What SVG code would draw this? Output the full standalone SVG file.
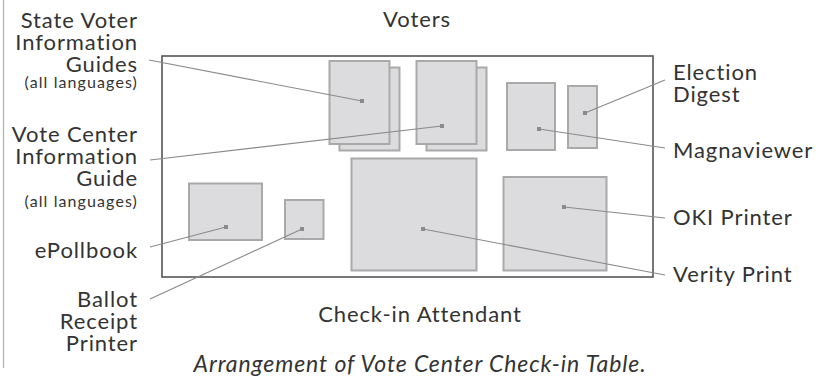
<svg xmlns="http://www.w3.org/2000/svg" width="826" height="379" viewBox="0 0 826 379">
<defs>
<marker id="dot" viewBox="0 0 4 4" refX="2" refY="2" markerWidth="4.5" markerHeight="4.5" markerUnits="userSpaceOnUse">
<rect x="0" y="0" width="4" height="4" fill="#8a8a8a"/>
</marker>
<style>
.t{font-family:Lato,"Liberation Sans",sans-serif;font-size:22px;font-weight:400;letter-spacing:0.9px;fill:#333333}
.s{font-size:16px;letter-spacing:1.1px}
.r{text-anchor:end}
.c{text-anchor:middle}
.i{font-style:italic;font-size:23px}
.box{fill:#dcdcde;stroke:#a9a9a9;stroke-width:2}
.lead{stroke:#8a8a8a;stroke-width:1.1;fill:none;marker-end:url(#dot)}
</style>
</defs>
<rect width="826" height="379" fill="#ffffff"/>
<line x1="3.5" y1="0" x2="3.5" y2="368" stroke="#b0b0b0" stroke-width="1.2"/>
<g id="table">
<rect x="162" y="56" width="491" height="221" fill="none" stroke="#555" stroke-width="1.6"/>
<text class="t c" x="417" y="27">Voters</text>
<text class="t c" x="420" y="322">Check-in Attendant</text>
<text class="t c i" x="420" y="372">Arrangement of Vote Center Check-in Table.</text>
</g>
<g id="state-voter-guides">
<rect class="box" x="339.5" y="67.5" width="60" height="83"/>
<rect class="box" x="329.5" y="61" width="60" height="83"/>
<text class="t r"><tspan x="138" y="28">State Voter</tspan><tspan x="138" y="50">Information</tspan><tspan x="138" y="72">Guides</tspan><tspan class="s" x="138" y="88">(all languages)</tspan></text>
</g>
<g id="vote-center-guide">
<rect class="box" x="426.5" y="67.5" width="60" height="83"/>
<rect class="box" x="416.5" y="61" width="60" height="83"/>
<text class="t r"><tspan x="138" y="142">Vote Center</tspan><tspan x="138" y="164">Information</tspan><tspan x="138" y="186">Guide</tspan><tspan class="s" x="138" y="207">(all languages)</tspan></text>
</g>
<g id="magnaviewer">
<rect class="box" x="507" y="83" width="48" height="67"/>
<text class="t" x="673" y="158">Magnaviewer</text>
</g>
<g id="election-digest">
<rect class="box" x="568" y="86" width="29" height="62"/>
<text class="t"><tspan x="673" y="80">Election</tspan><tspan x="673" y="102">Digest</tspan></text>
</g>
<g id="verity-print">
<rect class="box" x="351.5" y="158.5" width="125" height="112"/>
<text class="t" x="673" y="282">Verity Print</text>
</g>
<g id="oki-printer">
<rect class="box" x="503.5" y="177" width="103" height="93.5"/>
<text class="t" x="673" y="225">OKI Printer</text>
</g>
<g id="epollbook">
<rect class="box" x="189" y="183.5" width="73" height="56.5"/>
<text class="t r" x="138" y="258">ePollbook</text>
</g>
<g id="ballot-receipt-printer">
<rect class="box" x="285" y="200" width="38.5" height="39"/>
<text class="t r"><tspan x="138" y="307">Ballot</tspan><tspan x="138" y="329">Receipt</tspan><tspan x="138" y="351">Printer</tspan></text>
</g>
<g id="connectors">
<line class="lead" x1="149" y1="60" x2="362" y2="101"/>
<line class="lead" x1="150" y1="160" x2="442" y2="126"/>
<line class="lead" x1="150" y1="247" x2="226" y2="227"/>
<line class="lead" x1="150" y1="299" x2="302" y2="229"/>
<line class="lead" x1="665" y1="80" x2="585" y2="113"/>
<line class="lead" x1="665" y1="148" x2="539" y2="129"/>
<line class="lead" x1="665" y1="218" x2="564" y2="207"/>
<line class="lead" x1="665" y1="275" x2="423" y2="229"/>
</g>
</svg>
